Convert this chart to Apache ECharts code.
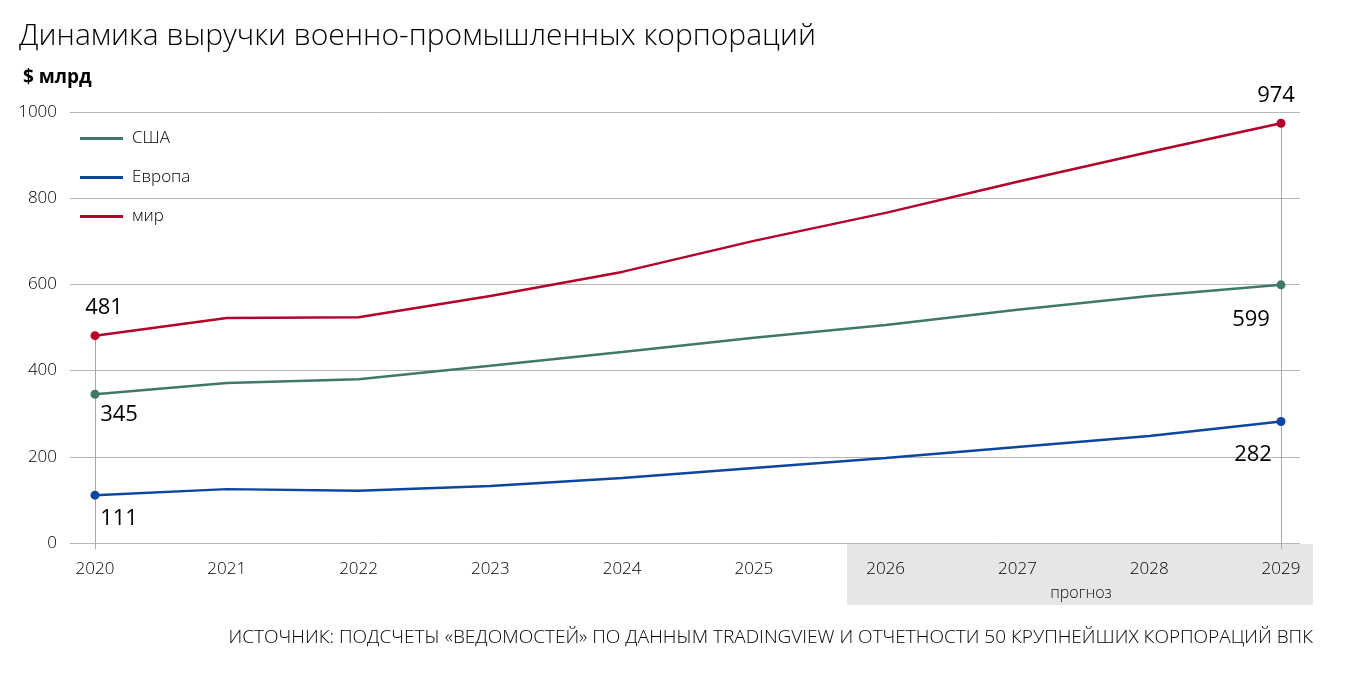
<!DOCTYPE html>
<html>
<head>
<meta charset="utf-8">
<script src="https://cdn.jsdelivr.net/npm/echarts@6/dist/echarts.min.js"></script>
<style>
  html, body { margin: 0; padding: 0; background: #fff; }
  #chart { width: 1345px; height: 680px; }
</style>
</head>
<body>
<div id="chart"></div>
<script>
// данные
const years = ['2020', '2021', '2022', '2023', '2024', '2025', '2026', '2027', '2028', '2029'];
const usa = [345, 371, 380, 411, 443, 476, 506, 541, 573, 599];
const europe = [111, 125, 121, 132, 151, 174, 197, 223, 248, 282];
const world = [481, 522, 524, 573, 629, 701, 766, 838, 907, 974];
const yTicks = [0, 200, 400, 600, 800, 1000];

const FONT = '"Open Sans", "DejaVu Sans", sans-serif';
const last = years.length - 1;

// только первая и последняя точка с маркером и подписью
function pts(arr, firstLbl, lastLbl) {
  return arr.map(function (v, i) {
    if (i === 0) return { value: v, symbol: 'circle', label: Object.assign({ show: true }, firstLbl) };
    if (i === last) return { value: v, symbol: 'circle', label: Object.assign({ show: true }, lastLbl) };
    return { value: v, symbol: 'none' };
  });
}

function mkSeries(name, arr, color, firstLbl, lastLbl, extra) {
  return Object.assign({
    name: name,
    type: 'line',
    xAxisIndex: 1,
    yAxisIndex: 1,
    data: pts(arr, firstLbl, lastLbl),
    symbolSize: 9,
    showAllSymbol: true,
    lineStyle: { color: color, width: 2.5 },
    itemStyle: { color: color },
    label: { color: '#000', fontSize: 22, fontFamily: FONT },
    emphasis: { disabled: true },
    z: 3
  }, extra || {});
}

const chart = echarts.init(document.getElementById('chart'));
chart.setOption({
  animation: false,
  title: [
    { text: 'Динамика выручки военно-промышленных корпораций', left: 14, top: 16,
      textStyle: { fontSize: 30, fontWeight: 300, color: '#000', fontFamily: FONT } },
    { text: '$ млрд', left: 18, top: 63,
      textStyle: { fontSize: 19, fontWeight: 'bold', color: '#000', fontFamily: FONT } },
    { text: 'прогноз', left: 1076, top: 580, textAlign: 'center',
      textStyle: { fontSize: 16, fontWeight: 300, color: '#111', fontFamily: FONT } },
    { text: 'ИСТОЧНИК: ПОДСЧЕТЫ «ВЕДОМОСТЕЙ» ПО ДАННЫМ TRADINGVIEW И ОТЧЕТНОСТИ 50 КРУПНЕЙШИХ КОРПОРАЦИЙ ВПК',
      right: 27, top: 623,
      textStyle: { fontSize: 19, fontWeight: 300, color: '#000', fontFamily: FONT } }
  ],
  graphic: [
    { type: 'rect', z: -10, shape: { x: 847, y: 544, width: 466, height: 61 }, style: { fill: '#e6e6e6' } }
  ],
  legend: {
    orient: 'vertical',
    left: 75,
    top: 125,
    itemGap: 22,
    itemWidth: 43,
    itemHeight: 3,
    icon: 'rect',
    data: ['США', 'Европа', 'мир'],
    textStyle: { fontSize: 17, color: '#000', fontFamily: FONT, fontWeight: 300, padding: [0, 0, 0, 4] }
  },
  grid: [
    { left: 70, right: 45, top: 112, bottom: 137 },
    { left: 95, right: 64, top: 112, bottom: 137 }
  ],
  xAxis: [
    { type: 'category', gridIndex: 0, data: years, show: false },
    {
      type: 'category', gridIndex: 1, data: years, boundaryGap: false,
      axisLine: { show: false },
      axisTick: { show: true, length: 6, lineStyle: { color: '#aaa' },
        interval: function (idx) { return idx === 0 || idx === last; } },
      axisLabel: { fontSize: 17, color: '#000', margin: 18, fontFamily: FONT, fontWeight: 300 },
      splitLine: { show: false }
    }
  ],
  yAxis: [
    {
      type: 'value', gridIndex: 0, min: yTicks[0], max: yTicks[yTicks.length - 1], interval: 200,
      axisLine: { show: false }, axisTick: { show: false },
      axisLabel: { fontSize: 17, color: '#000', margin: 13, fontFamily: FONT, fontWeight: 300,
        formatter: function (v) { return String(v); } },
      splitLine: { lineStyle: { color: '#b5b5b5', width: 1 } }
    },
    {
      type: 'value', gridIndex: 1, min: yTicks[0], max: yTicks[yTicks.length - 1], interval: 200,
      show: false, splitLine: { show: false }
    }
  ],
  series: [
    mkSeries('США', usa, '#3f7a66',
      { position: 'bottom', offset: [24, 0] },
      { position: 'bottom', offset: [-30, 14] }),
    mkSeries('Европа', europe, '#0d46a0',
      { position: 'bottom', offset: [24, 3] },
      { position: 'bottom', offset: [-28, 13] }),
    mkSeries('мир', world, '#b5002a',
      { position: 'top', offset: [9, -7] },
      { position: 'top', offset: [-5, -7] },
      {
        markLine: {
          silent: true, symbol: 'none', label: { show: false },
          lineStyle: { color: '#aaa', width: 1, type: 'solid' },
          z: 1,
          data: [
            [{ coord: [0, world[0]] }, { coord: [0, 0] }],
            [{ coord: [last, world[last]] }, { coord: [last, 0] }]
          ]
        }
      })
  ]
});
</script>
</body>
</html>
